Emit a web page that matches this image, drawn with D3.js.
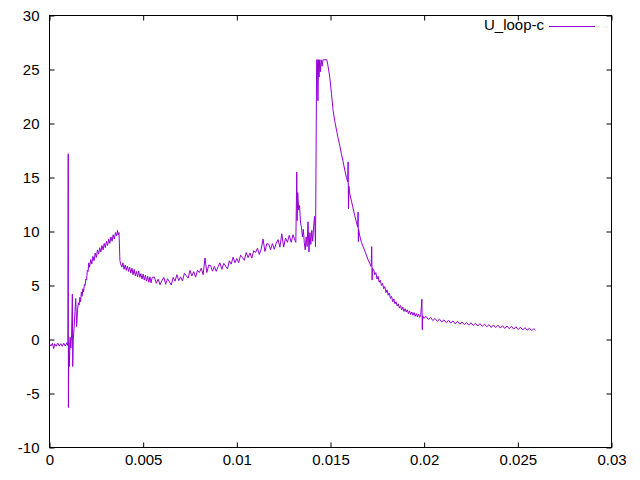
<!DOCTYPE html>
<html>
<head>
<meta charset="utf-8">
<script src="https://cdn.jsdelivr.net/npm/d3@7"></script>
<style>
  html, body { margin: 0; padding: 0; background: #fff; }
  svg { display: block; }
  text { font-family: "Liberation Sans", Arial, sans-serif; }
</style>
</head>
<body>
<script>
// ---- data (time in ms, voltage) ----
const seriesName = "U_loop-c";
const timeMs = [
  0, 0.08, 0.16, 0.22, 0.28, 0.36, 0.44, 0.52, 0.6, 0.68, 0.76, 0.84, 0.92, 0.98,
  1.0, 1.01, 1.03, 1.06, 1.1, 1.14, 1.18, 1.22, 1.24, 1.27, 1.31, 1.36, 1.4, 1.45, 1.5, 1.54,
  1.58, 1.62, 1.66, 1.7, 1.74, 1.78, 1.82, 1.86, 1.9, 1.94, 1.98, 2.02, 2.06, 2.1, 2.14, 2.2,
  2.26, 2.32, 2.38, 2.44, 2.5, 2.56, 2.62, 2.68, 2.74, 2.8, 2.86, 2.92, 2.98, 3.04, 3.1, 3.16,
  3.22, 3.28, 3.34, 3.4, 3.46, 3.52, 3.58, 3.63, 3.67, 3.71, 3.76,
  3.8, 3.86, 3.92, 3.98, 4.04, 4.1, 4.16, 4.22, 4.28, 4.34, 4.4, 4.46, 4.52, 4.58, 4.64, 4.7,
  4.76, 4.82, 4.88, 4.94, 5.0, 5.06, 5.12, 5.18, 5.24, 5.3, 5.36, 5.42, 5.48,
  5.6, 5.7, 5.8, 5.9, 6.0, 6.1, 6.2, 6.3, 6.4, 6.5, 6.6, 6.7, 6.8, 6.9, 7.0, 7.1, 7.2, 7.3,
  7.4, 7.5, 7.6, 7.7, 7.8, 7.9, 8.0, 8.1, 8.2, 8.3, 8.4, 8.5, 8.6, 8.7, 8.8, 8.9, 9.0, 9.1,
  9.2, 9.3, 9.4, 9.5, 9.6, 9.7, 9.8, 9.9, 10.0, 10.1, 10.2, 10.3, 10.4, 10.5, 10.6, 10.7,
  10.8, 10.9, 11.0, 11.1, 11.2, 11.3, 11.4, 11.5, 11.6, 11.7, 11.8, 11.9, 12.0, 12.1, 12.2,
  12.3, 12.4, 12.5, 12.6, 12.7, 12.8, 12.9, 13.0, 13.1,
  13.15, 13.2, 13.22, 13.25, 13.3, 13.35, 13.4, 13.45, 13.5, 13.55, 13.6, 13.65, 13.7, 13.75,
  13.8, 13.85, 13.9, 13.95, 14.0, 14.05, 14.1, 14.15, 14.2, 14.26,
  14.3, 14.33, 14.36, 14.39, 14.42, 14.46, 14.5, 14.55, 14.6, 14.7, 14.8, 14.85,
  14.96, 15.05, 15.14, 15.23, 15.32, 15.4, 15.49, 15.58, 15.67, 15.76, 15.85, 15.92, 15.94,
  15.96, 15.98, 16.03, 16.12, 16.2, 16.29, 16.38, 16.45, 16.47, 16.49, 16.5, 16.56, 16.65,
  16.74, 16.83, 16.92, 17.0, 17.09, 17.17, 17.2, 17.22, 17.24,
  17.3, 17.36, 17.42, 17.48, 17.54, 17.6, 17.66, 17.72, 17.78, 17.84, 17.9, 17.96, 18.02,
  18.08, 18.14, 18.2, 18.26, 18.32, 18.38, 18.44, 18.5, 18.56, 18.62, 18.68, 18.74, 18.8,
  18.86, 18.92, 18.98, 19.04, 19.1, 19.16, 19.22, 19.28, 19.34, 19.4, 19.46, 19.52, 19.58,
  19.64, 19.7, 19.76, 19.82, 19.88, 19.9, 19.92,
  19.98, 20.1, 20.22, 20.34, 20.46, 20.58, 20.7, 20.82, 20.94, 21.06, 21.18, 21.3, 21.42,
  21.54, 21.66, 21.78, 21.9, 22.02, 22.14, 22.26, 22.38, 22.5, 22.62, 22.74, 22.86, 22.98,
  23.1, 23.22, 23.34, 23.46, 23.58, 23.7, 23.82, 23.94, 24.06, 24.18, 24.3, 24.42, 24.54,
  24.66, 24.78, 24.9, 25.02, 25.14, 25.26, 25.38, 25.5, 25.62, 25.74, 25.86, 25.95
];
const voltage = [
  -0.4, -0.6, -0.35, -0.85, -0.4, -0.62, -0.33, -0.6, -0.38, -0.63, -0.35, -0.6, -0.3, -0.55,
  17.2, -6.3, -0.3, -2.5, 0.2, -0.8, 0.5, 4.2, -2.5, 0.0, 1.0, 2.6, 3.8, 1.2, 2.8, 3.4,
  3.2, 3.9, 3.5, 4.4, 4.0, 4.7, 4.4, 5.1, 5.0, 5.6, 5.5, 6.4, 6.3, 7.1, 6.7, 7.4,
  7.0, 7.7, 7.3, 8.0, 7.6, 8.3, 7.9, 8.5, 8.1, 8.7, 8.3, 8.9, 8.5, 9.1, 8.7, 9.3,
  8.9, 9.5, 9.1, 9.7, 9.3, 9.9, 9.6, 10.1, 9.7, 9.9, 7.3,
  7.0, 6.7, 7.1, 6.5, 6.9, 6.4, 6.8, 6.3, 6.7, 6.15, 6.6, 6.0, 6.5, 5.9, 6.3, 5.8,
  6.35, 5.75, 6.1, 5.6, 6.05, 5.5, 5.95, 5.4, 5.85, 5.3, 5.8, 5.25, 5.75,
  5.78, 5.21, 5.59, 5.07, 5.45, 5.76, 5.12, 5.63, 5.34, 5.05, 5.75, 5.4, 6.0, 5.45, 5.8, 5.42, 6.14, 5.91,
  5.68, 6.4, 5.89, 6.28, 5.77, 6.41, 6.2, 6.6, 6.0, 7.55, 6.2, 6.9, 6.84, 6.33, 6.77, 6.31, 6.75, 7.1,
  6.5, 7.05, 6.8, 6.55, 7.29, 6.98, 7.62, 7.11, 7.5, 7.11, 7.82, 7.58, 7.34, 8.05, 7.58, 8.01,
  7.54, 8.22, 8.05, 8.46, 7.87, 8.38, 9.3, 8.15, 8.87, 8.84, 8.31, 8.88, 8.35, 8.9, 9.25,
  8.55, 9.8, 8.55, 9.4, 9.0, 9.65, 9.0, 9.7, 9.2,
  9.0, 15.5, 11.0, 13.6, 12.0, 12.4, 10.8, 10.4, 9.5, 10.2, 9.0, 8.3, 9.5, 8.6,
  10.9, 8.1, 9.9, 8.8, 10.1, 9.1, 10.5, 11.4, 8.6, 25.9,
  25.9, 22.1, 25.9, 24.3, 25.9, 24.8, 25.9, 25.3, 25.9, 25.9, 25.9, 25.5,
  24.3, 22.8, 21.2, 20.2, 19.4, 18.7, 18.0, 17.2, 16.5, 15.7, 15.0, 14.6, 16.45,
  12.1, 14.2, 13.5, 12.8, 12.2, 11.5, 10.9, 10.4, 11.8, 9.06, 10.2, 9.6, 9.0,
  8.6, 8.2, 7.8, 7.4, 7.06, 6.75, 8.6, 5.5, 6.6,
  6.5, 6.0, 6.2, 5.6, 5.85, 5.3, 5.5, 5.0, 5.2, 4.7, 4.9, 4.35, 4.6,
  4.1, 4.3, 3.8, 4.0, 3.5, 3.75, 3.3, 3.5, 3.1, 3.3, 2.9, 3.15, 2.75,
  3.0, 2.6, 2.85, 2.55, 2.75, 2.4, 2.65, 2.3, 2.55, 2.25, 2.5, 2.15, 2.4,
  2.1, 2.35, 2.05, 2.3, 3.73, 0.9, 2.2,
  1.95, 2.15, 1.85, 2.05, 1.75, 1.95, 1.68, 1.88, 1.62, 1.82, 1.56, 1.78, 1.52,
  1.72, 1.45, 1.68, 1.42, 1.62, 1.38, 1.58, 1.33, 1.55, 1.3, 1.5, 1.25, 1.46,
  1.22, 1.42, 1.18, 1.38, 1.12, 1.35, 1.1, 1.32, 1.06, 1.28, 1.02, 1.25, 1.0,
  1.22, 0.96, 1.18, 0.92, 1.14, 0.88, 1.1, 0.86, 1.05, 0.82, 1.0, 0.85
];
const xTickValues = [0, 5, 10, 15, 20, 25, 30];           // ms
const xTickLabels = ["0", "0.005", "0.01", "0.015", "0.02", "0.025", "0.03"];
const yTickValues = [-10, -5, 0, 5, 10, 15, 20, 25, 30];
const yTickLabels = ["-10", "-5", "0", "5", "10", "15", "20", "25", "30"];

// ---- layout ----
const W = 640, H = 480;
const L = 49.5, R = 611.5, T = 15.5, B = 447.5;
const lineColor = "#9400D3";
const fontSize = "15px";

const svg = d3.select("body").append("svg").attr("width", W).attr("height", H);

const x = d3.scaleLinear().domain([0, 30]).range([L, R]);
const y = d3.scaleLinear().domain([-10, 30]).range([B, T]);

const data = timeMs.map((t, i) => ({ t, v: voltage[i] }));

// axes (ticks inward, mirrored on top/right)
const tickLen = 5;
const xAxis = d3.axisBottom(x).tickValues(xTickValues)
  .tickFormat((d, i) => xTickLabels[i]).tickSizeInner(-tickLen).tickSizeOuter(0).tickPadding(7);
const yAxis = d3.axisLeft(y).tickValues(yTickValues)
  .tickFormat((d, i) => yTickLabels[i]).tickSizeInner(-tickLen).tickSizeOuter(0).tickPadding(10);
const xTop = d3.axisTop(x).tickValues(xTickValues).tickFormat("").tickSizeInner(-tickLen).tickSizeOuter(0);
const yRight = d3.axisRight(y).tickValues(yTickValues).tickFormat("").tickSizeInner(-tickLen).tickSizeOuter(0);

function styleAxis(g) {
  g.select(".domain").remove();
  g.selectAll(".tick line").attr("stroke", "#000").attr("stroke-width", 1);
  g.selectAll(".tick text").attr("fill", "#000")
    .style("font-family", '"Liberation Sans", Arial, sans-serif').style("font-size", fontSize);
}
svg.append("g").attr("transform", `translate(0,${B})`).call(xAxis).call(styleAxis);
svg.append("g").attr("transform", `translate(${L},0)`).call(yAxis).call(styleAxis);
svg.append("g").attr("transform", `translate(0,${T})`).call(xTop).call(styleAxis);
svg.append("g").attr("transform", `translate(${R},0)`).call(yRight).call(styleAxis);

// frame
svg.append("rect").attr("x", L).attr("y", T).attr("width", R - L).attr("height", B - T)
  .attr("fill", "none").attr("stroke", "#000").attr("stroke-width", 1);

// series
const line = d3.line().x(d => x(d.t)).y(d => y(d.v));
svg.append("path").datum(data).attr("d", line)
  .attr("fill", "none").attr("stroke", lineColor).attr("stroke-width", 1)
  .attr("stroke-linejoin", "miter");

// legend
svg.append("text").attr("x", 544).attr("y", 30).attr("text-anchor", "end")
  .style("font-size", fontSize).attr("fill", "#000").text(seriesName);
svg.append("line").attr("x1", 549).attr("x2", 595).attr("y1", 26.5).attr("y2", 26.5)
  .attr("stroke", lineColor).attr("stroke-width", 1);
</script>
</body>
</html>
